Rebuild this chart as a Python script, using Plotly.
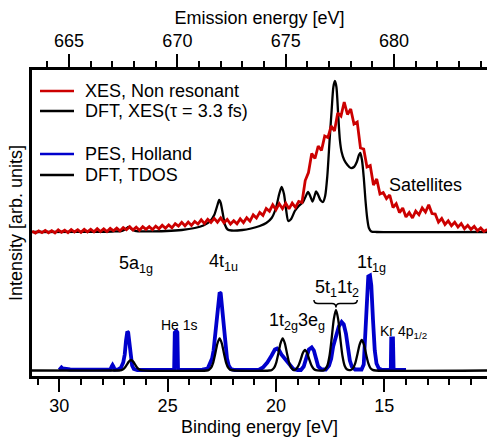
import numpy as np
import plotly.graph_objects as go

# Relation between the two x axes: emission energy = BE_SUM - binding energy
BE_SUM = 694.55

# ---------------- XES (emission energy, eV) ----------------
# Non resonant XES (red), sampled every 0.15 eV starting at 663.30 eV
XES_RED_E0 = 663.30
XES_RED_STEP = 0.15
XES_RED_I = [0.8, -1.0, 1.2, -0.6, 1.6, -0.7, 1.3, -0.9, 2.2, -0.3,
             1.8, -0.6, 2.5, 0.0, 2.3, -0.4, 2.6, 0.1, 2.8, 0.2,
             3.3, 0.4, 3.2, 0.5, 3.7, 1.2, 3.9, 1.1, 4.5, 2.2,
             5.2, 1.9, 4.8, 1.8, 5.3, 2.6, 5.3, 2.4, 5.9, 3.2,
             6.8, 3.7, 7.1, 4.2, 8.3, 5.8, 9.6, 6.2, 10.0, 6.6,
             10.6, 8.0, 12.2, 8.4, 12.6, 9.6, 13.6, 9.8, 14.0, 9.2,
             12.5, 8.0, 11.3, 8.2, 13.1, 9.4, 14.2, 10.8, 17.1, 13.9,
             19.6, 16.6, 23.6, 20.8, 27.2, 22.3, 28.3, 23.3, 28.8, 23.1,
             28.9, 24.5, 30.6, 29.5, 51.5, 59.5, 78.5, 73.5, 86.0, 81.5,
             96.0, 94.5, 106.0, 101.0, 119.0, 116.0, 130.0, 117.5, 123.0, 108.0,
             110.0, 84.0, 83.0, 65.0, 66.5, 47.0, 53.0, 38.0, 39.5, 33.5,
             37.0, 24.5, 28.3, 19.4, 23.9, 15.1, 19.4, 14.0, 20.9, 17.2,
             24.1, 20.0, 27.2, 18.4, 17.9, 9.8, 13.5, 7.5, 11.1, 6.2,
             9.7, 4.9, 8.4, 3.3, 6.7, 2.6, 5.6, 1.2, 4.0, 0.5, 2.5]

# DFT XES (tau = 3.3 fs), black
XES_DFT_E = [663.29, 665.5, 667.0, 667.45, 667.62, 667.75, 667.88, 668.05, 668.5, 669.5,
             670.2, 670.8, 671.2, 671.5, 671.7, 671.85, 671.93, 672.0, 672.1, 672.2,
             672.32, 672.5, 673.0, 673.4, 673.8, 674.1, 674.35, 674.55, 674.7, 674.81,
             674.92, 675.02, 675.12, 675.25, 675.42, 675.6, 675.8, 675.93, 676.03, 676.13,
             676.24, 676.33, 676.40, 676.5, 676.6, 676.72, 676.82, 676.92, 677.02, 677.12,
             677.2, 677.27, 677.34, 677.42, 677.5, 677.58, 677.7, 677.85, 678.0, 678.15,
             678.28, 678.38, 678.44, 678.52, 678.6, 678.68, 678.76, 678.84, 678.95, 679.2,
             684.29]
XES_DFT_I = [0, 0.2, 0.5, 1.2, 3, 5, 3, 1.2, 0.6, 1,
             2, 4, 6.5, 10.5, 17, 27, 32, 29, 18, 7,
             2.5, 1.5, 2, 3.5, 6, 9, 14, 24, 38, 45,
             38, 22, 11, 13, 21, 26, 30, 36, 40, 36,
             30.5, 36, 40.5, 37, 32, 30, 36, 56, 90, 122,
             145, 151, 145, 118, 92, 80, 72, 67, 64, 65,
             70, 77, 79, 72, 55, 32, 14, 4, 0.5, 0,
             0]

# ---------------- PES (binding energy, eV) ----------------
PES_BE = [30.0, 29.9, 29.85, 29.7, 29.5, 29.0, 28.5, 28.0, 27.65, 27.58,
          27.54, 27.5, 27.44, 27.3, 27.15, 27.05, 26.98, 26.92, 26.86, 26.82,
          26.76, 26.7, 26.64, 26.56, 26.4, 25.5, 24.7, 24.67, 24.6, 24.55,
          24.52, 24.0, 23.4, 23.15, 23.05, 22.95, 22.88, 22.82, 22.76, 22.7,
          22.64, 22.6, 22.55, 22.5, 22.44, 22.38, 22.32, 22.26, 22.18, 22.08,
          21.9, 21.0, 20.8, 20.6, 20.4, 20.2, 20.05, 19.95, 19.85, 19.75,
          19.6, 19.5, 19.35, 19.2, 19.0, 18.85, 18.72, 18.6, 18.48, 18.35,
          18.25, 18.15, 18.05, 17.9, 17.7, 17.55, 17.45, 17.36, 17.2, 17.1,
          16.97, 16.87, 16.77, 16.67, 16.59, 16.5, 16.35, 16.15, 16.05, 15.95,
          15.88, 15.8, 15.74, 15.66, 15.6, 15.52, 15.44, 15.36, 15.25, 15.1,
          14.7, 14.68, 14.6, 14.57, 14.0]
PES_I = [0.5, 3, 2, 1.5, 1, 0.8, 0.5, 0.5, 0.8, 4,
         5.5, 4, 0.8, 1, 3, 8, 16, 30, 39, 38,
         28, 14, 5, 1.5, 0.5, 0.5, 0.5, 38, 39.5, 38,
         0.5, 0.5, 0.8, 2, 6, 12, 20, 32, 44, 60,
         72, 78, 77, 66, 54, 38, 22, 12, 5, 1.5,
         0.5, 0.5, 0.5, 3, 8, 15, 21, 22, 20, 16,
         12, 9, 4, 1.5, 0.5, 0.5, 4, 14, 21, 23,
         20, 12, 4, 1, 1, 5, 12, 24, 37, 44,
         48.5, 46, 37, 22, 10, 4, 1, 1, 1, 6,
         40, 75, 94, 95, 85, 50, 20, 7, 2, 0.5,
         0.5, 32, 32, 0.5, 0.5]

# DFT total density of states, black
TDOS_BE = [31.3, 27.3,
           27.19, 27.09, 26.99, 26.89, 26.79, 26.69, 26.59, 26.49, 26.39, 26.29, 26.19,
           23.2,
           23.1, 23.0, 22.9, 22.8, 22.7, 22.6, 22.5, 22.4, 22.3, 22.2, 22.1,
           20.3,
           20.19, 20.09, 19.99, 19.89, 19.79, 19.69, 19.59, 19.49, 19.39, 19.29, 19.19,
           19.16, 19.06, 18.96, 18.86, 18.76, 18.66, 18.56, 18.46, 18.36, 18.26, 18.16,
           17.8,
           17.73, 17.63, 17.53, 17.43, 17.33, 17.23, 17.13, 17.03, 16.93, 16.83, 16.73,
           16.54, 16.44, 16.34, 16.24, 16.14, 16.04, 15.94, 15.84, 15.74, 15.64, 15.54,
           15.4, 10.2]
TDOS_I = [0, 0,
          0.2, 0.8, 2.5, 5.6, 8.9, 10.5, 8.9, 5.6, 2.5, 0.8, 0.2,
          0,
          0.6, 2.6, 7.7, 17, 27.2, 32, 27.2, 17, 7.7, 2.6, 0.6,
          0,
          0.6, 2.6, 7.7, 17, 27.2, 32, 27.2, 17, 7.7, 2.6, 0.6,
          0.4, 1.6, 4.9, 10.9, 17.4, 20.5, 17.4, 10.9, 4.9, 1.6, 0.4,
          0,
          1.2, 4.8, 14.5, 32, 51.4, 60.5, 51.4, 32, 14.5, 4.8, 1.2,
          0.6, 2.4, 7.3, 16.2, 25.9, 30.5, 25.9, 16.2, 7.3, 2.4, 0.6,
          0, 0]

# vertical stacking offsets of the two panels (arb. units)
XES_OFFSET = 144.0
PES_OFFSET = 5.5

RED = "#cc0000"
BLUE = "#0000cc"
BLACK = "#000000"

xes_red_e = XES_RED_E0 + XES_RED_STEP * np.arange(len(XES_RED_I))

traces = [
    dict(x=XES_DFT_E, y=np.array(XES_DFT_I) + XES_OFFSET, xaxis="x2",
         line=dict(color=BLACK, width=2.3, shape="spline", smoothing=0.7),
         name="DFT, XES(τ = 3.3 fs)"),
    dict(x=xes_red_e, y=np.array(XES_RED_I) + XES_OFFSET, xaxis="x2",
         line=dict(color=RED, width=2.8),
         name="XES, Non resonant"),
    dict(x=PES_BE, y=np.array(PES_I) + PES_OFFSET, xaxis="x",
         line=dict(color=BLUE, width=3.8),
         name="PES, Holland"),
    dict(x=TDOS_BE, y=np.array(TDOS_I) + PES_OFFSET, xaxis="x",
         line=dict(color=BLACK, width=2.3, shape="spline", smoothing=0.7),
         name="DFT, TDOS"),
]

fig = go.Figure()
for t in traces:
    fig.add_trace(go.Scatter(mode="lines", yaxis="y", showlegend=False, **t))

axis_common = dict(
    automargin=False,
    ticks="outside", ticklen=13, tickwidth=2, tickcolor=BLACK,
    showline=True, linewidth=2.5, linecolor=BLACK,
    showgrid=False, zeroline=False, tickfont=dict(size=18),
    minor=dict(dtick=1, ticklen=6, tickwidth=2, tickcolor=BLACK, ticks="outside", showgrid=False),
)

fig.update_layout(
    template="none",
    width=487, height=441,
    margin=dict(l=32, r=0, t=70, b=65, pad=0),
    paper_bgcolor="white", plot_bgcolor="white",
    font=dict(family="Liberation Sans, Arial, sans-serif", size=18, color=BLACK),
    showlegend=False,
    xaxis=dict(range=[31.26, 10.26], tick0=0, dtick=5, anchor="y",
               ticklabelstandoff=-1,
               title=dict(text="Binding energy [eV]", font=dict(size=18), standoff=6),
               **axis_common),
    xaxis2=dict(range=[BE_SUM - 31.26, BE_SUM - 10.26], tick0=665, dtick=5,
                overlaying="x", side="top", anchor="y",
                ticklabelstandoff=0,
                title=dict(text="Emission energy [eV]", font=dict(size=18), standoff=2),
                **axis_common),
    yaxis=dict(range=[0, 306], showticklabels=False, ticks="", automargin=False,
               showline=True, linewidth=2.5, linecolor=BLACK,
               showgrid=False, zeroline=False,
               title=dict(text="Intensity [arb. units]", font=dict(size=18), standoff=2)),
)

# ---- legend (drawn as layout decorations, two groups) ----
legend_rows = [(0.9314, RED, "XES, Non resonant"),
               (0.8660, BLACK, "DFT, XES(τ = 3.3 fs)"),
               (0.7255, BLUE, "PES, Holland"),
               (0.6569, BLACK, "DFT, TDOS")]
for yy, col, txt in legend_rows:
    fig.add_shape(type="line", xref="paper", yref="paper", x0=0.0176, x1=0.0923,
                  y0=yy, y1=yy, line=dict(color=col, width=2.6))
    fig.add_annotation(xref="paper", yref="paper", x=0.1121, y=yy, text=txt,
                       xanchor="left", yanchor="middle", showarrow=False,
                       font=dict(size=18, color=BLACK))

lab = dict(size=18, color=BLACK)
small = dict(size=14, color=BLACK)
annotations = [
    dict(x=27.35, y=112, text="5a<sub>1g</sub>", font=lab),
    dict(x=23.18, y=114, text="4t<sub>1u</sub>", font=lab),
    dict(x=25.40, y=51, text="He 1s", font=small),
    dict(x=20.42, y=55, text="1t<sub>2g</sub>3e<sub>g</sub>", font=lab),
    dict(x=18.29, y=88, text="5t<sub>1</sub>1t<sub>2</sub>", font=lab),
    dict(x=16.37, y=113, text="1t<sub>1g</sub>", font=lab),
    dict(x=15.30, y=44, text="Kr 4p<sub>1/2</sub>", font=small),
]
for a in annotations:
    fig.add_annotation(xref="x", yref="y", xanchor="left", yanchor="middle",
                       showarrow=False, **a)
fig.add_annotation(xref="x2", yref="y", x=BE_SUM - 14.86, y=191, text="Satellites",
                   xanchor="left", yanchor="middle", showarrow=False, font=lab)

# curly brace grouping 5t1 and 1t2
fig.add_shape(type="path", xref="x", yref="y",
              path="M18.247,76 Q18.247,72.5 18.062,72.5 L17.416,72.5 Q17.231,72.5 17.231,68.5 "
                   "Q17.231,72.5 17.047,72.5 L16.433,72.5 Q16.248,72.5 16.248,76",
              line=dict(color=BLACK, width=1.5))

fig.write_html("out.html",
               config={"displayModeBar": False},
               post_script="document.body.style.margin='0';document.body.style.padding='0';")
